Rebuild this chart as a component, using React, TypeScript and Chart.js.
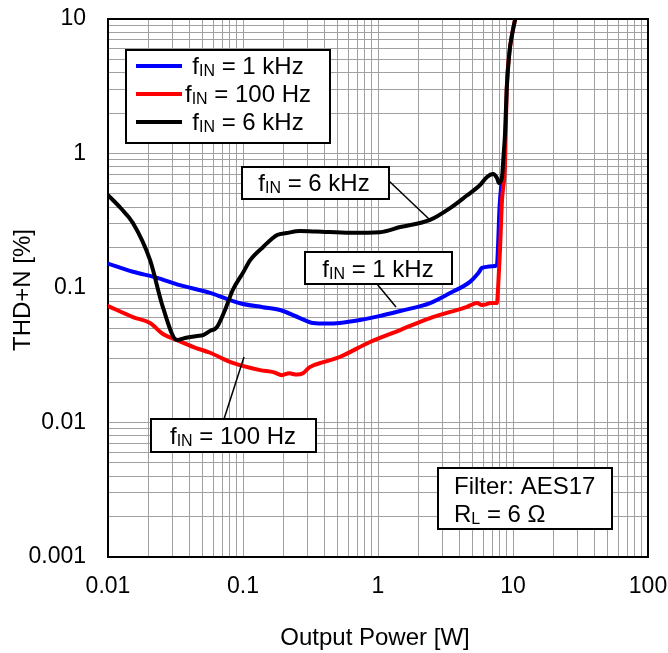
import React, { useEffect, useRef } from 'react';
import { Chart, registerables } from 'chart.js';

Chart.register(...registerables);

// ---------- data ----------
const xTickLabels = ['0.01', '0.1', '1', '10', '100'];
const yTickLabels = ['0.001', '0.01', '0.1', '1', '10'];

const xMin = 0.01;
const xMax = 100;
const yMin = 0.001;
const yMax = 10;

// f_IN = 1 kHz
const power1k = [0.01, 0.0153, 0.0225, 0.0341, 0.057, 0.095, 0.14, 0.188, 0.264, 0.33, 0.42, 0.52, 0.736, 1.0, 1.46, 2.43, 3.42, 4.8, 5.5, 5.89, 6.21, 7.0, 7.61, 7.74, 7.95, 8.29];
const thd1k = [0.152, 0.132, 0.12, 0.105, 0.092, 0.077, 0.072, 0.0686, 0.0598, 0.055, 0.0545, 0.055, 0.0578, 0.0615, 0.0675, 0.0773, 0.0918, 0.111, 0.128, 0.141, 0.143, 0.145, 0.148, 0.2, 0.4, 0.66];

// f_IN = 100 Hz
const power100 = [0.01, 0.0153, 0.0205, 0.0255, 0.0325, 0.043, 0.057, 0.084, 0.134, 0.17, 0.194, 0.22, 0.25, 0.278, 0.31, 0.4, 0.52, 0.873, 1.46, 2.43, 3.42, 4.5, 5.06, 5.41, 5.89, 6.3, 6.76, 7.61, 7.74, 8.01, 8.29, 8.73, 8.98, 9.4, 9.9, 10.6];
const thd100 = [0.0735, 0.0608, 0.0549, 0.0455, 0.041, 0.0364, 0.033, 0.0277, 0.0245, 0.0236, 0.0225, 0.0232, 0.0227, 0.0232, 0.0257, 0.0282, 0.0307, 0.0397, 0.0487, 0.0598, 0.0664, 0.072, 0.076, 0.0773, 0.0748, 0.0755, 0.0773, 0.0773, 0.0966, 0.192, 0.45, 0.85, 2.97, 5.6, 7.9, 11];

// f_IN = 6 kHz
const power6k = [0.01, 0.0125, 0.0153, 0.0205, 0.0255, 0.0325, 0.0372, 0.0456, 0.0506, 0.057, 0.064, 0.0736, 0.084, 0.1, 0.113, 0.141, 0.179, 0.21, 0.264, 0.35, 0.62, 1.035, 1.46, 2.43, 3.42, 4.5, 5.7, 6.42, 7.11, 7.61, 7.87, 8.29, 8.5, 8.73, 8.98, 9.4, 9.9, 10.6];
const thd6k = [0.49, 0.39, 0.304, 0.161, 0.072, 0.041, 0.0425, 0.044, 0.0447, 0.048, 0.051, 0.0686, 0.0966, 0.13, 0.161, 0.202, 0.248, 0.256, 0.265, 0.263, 0.257, 0.26, 0.284, 0.321, 0.393, 0.483, 0.583, 0.669, 0.704, 0.657, 0.604, 0.669, 0.94, 1.42, 2.97, 5.6, 7.9, 11];

const seriesLabels = ['1 kHz', '100 Hz', '6 kHz'];
const seriesColors = ['#0000ff', '#ff0000', '#000000'];

// ---------- helpers ----------
const FONT = 'Arial, "Liberation Sans", Helvetica, sans-serif';
const TICK_FS = 23;
const FS = 24;
const SUB = 16;

const toPoints = (xs: number[], ys: number[]) => xs.map((x, i) => ({ x, y: ys[i] }));

function decadeTicks(min: number, max: number) {
  const out: { value: number }[] = [];
  const e0 = Math.round(Math.log10(min));
  const e1 = Math.round(Math.log10(max));
  for (let e = e0; e < e1; e++) {
    for (let k = 1; k <= 9; k++) {
      out.push({ value: parseFloat((k * Math.pow(10, e)).toPrecision(8)) });
    }
  }
  out.push({ value: max });
  return out;
}

function majorLabel(value: number, labels: string[], min: number) {
  const lg = Math.log10(value);
  if (Math.abs(lg - Math.round(lg)) > 1e-6) return '';
  const idx = Math.round(lg - Math.log10(min));
  return labels[idx] ?? '';
}

type Part = { t: string; sub?: boolean };
const fIn = (rest: string): Part[] => [{ t: 'f' }, { t: 'IN', sub: true }, { t: rest }];

function drawParts(ctx: CanvasRenderingContext2D, parts: Part[], x: number, baseline: number, align: 'left' | 'center') {
  ctx.textBaseline = 'alphabetic';
  ctx.textAlign = 'left';
  const widths = parts.map((p) => {
    ctx.font = `${p.sub ? SUB : FS}px ${FONT}`;
    return ctx.measureText(p.t).width;
  });
  const total = widths.reduce((a, b) => a + b, 0);
  let cx = align === 'center' ? x - total / 2 : x;
  parts.forEach((p, i) => {
    ctx.font = `${p.sub ? SUB : FS}px ${FONT}`;
    ctx.fillText(p.t, cx, baseline + (p.sub ? 2 : 0));
    cx += widths[i];
  });
}

function box(ctx: CanvasRenderingContext2D, x0: number, y0: number, x1: number, y1: number) {
  ctx.save();
  ctx.fillStyle = '#ffffff';
  ctx.fillRect(x0, y0, x1 - x0, y1 - y0);
  ctx.strokeStyle = '#000000';
  ctx.lineWidth = 2;
  ctx.strokeRect(x0, y0, x1 - x0, y1 - y0);
  ctx.restore();
}

function leader(ctx: CanvasRenderingContext2D, x0: number, y0: number, x1: number, y1: number) {
  ctx.save();
  ctx.strokeStyle = '#000000';
  ctx.lineWidth = 1.5;
  ctx.beginPath();
  ctx.moveTo(x0, y0);
  ctx.lineTo(x1, y1);
  ctx.stroke();
  ctx.restore();
}

const framePlugin = {
  id: 'frame',
  beforeDatasetsDraw(chart: any) {
    const { ctx, chartArea: a } = chart;
    ctx.save();
    ctx.strokeStyle = '#000000';
    ctx.lineWidth = 2;
    ctx.strokeRect(a.left, a.top, a.right - a.left, a.bottom - a.top);
    ctx.restore();
  },
  afterDraw(chart: any) {
    const ctx: CanvasRenderingContext2D = chart.ctx;
    ctx.save();
    ctx.fillStyle = '#000000';

    // axis titles
    ctx.font = `${FS}px ${FONT}`;
    ctx.textAlign = 'center';
    ctx.textBaseline = 'alphabetic';
    ctx.fillText('Output Power [W]', 375, 645);
    ctx.save();
    ctx.translate(30, 290);
    ctx.rotate(-Math.PI / 2);
    ctx.fillText('THD+N [%]', 0, 0);
    ctx.restore();

    // legend
    box(ctx, 126, 50, 330, 143);
    const rows = [66, 94, 122];
    seriesLabels.forEach((lab, i) => {
      ctx.save();
      ctx.strokeStyle = seriesColors[i];
      ctx.lineWidth = 4;
      ctx.beginPath();
      ctx.moveTo(136, rows[i]);
      ctx.lineTo(182, rows[i]);
      ctx.stroke();
      ctx.restore();
      ctx.fillStyle = '#000000';
      drawParts(ctx, fIn(' = ' + lab), 248, rows[i] + 8, 'center');
    });

    // annotation: 6 kHz
    leader(ctx, 389, 181, 429, 219);
    box(ctx, 242, 167, 389, 199);
    ctx.fillStyle = '#000000';
    drawParts(ctx, fIn(' = ' + seriesLabels[2]), 314, 191, 'center');

    // annotation: 1 kHz
    leader(ctx, 377, 284, 396, 307);
    box(ctx, 305, 252, 452, 284);
    ctx.fillStyle = '#000000';
    drawParts(ctx, fIn(' = ' + seriesLabels[0]), 378, 277, 'center');

    // annotation: 100 Hz
    leader(ctx, 244, 357, 224, 419);
    box(ctx, 151, 419, 316, 452);
    ctx.fillStyle = '#000000';
    drawParts(ctx, fIn(' = ' + seriesLabels[1]), 233, 444, 'center');

    // conditions
    box(ctx, 438, 468, 612, 529);
    ctx.fillStyle = '#000000';
    drawParts(ctx, [{ t: 'Filter: AES17' }], 454, 494, 'left');
    drawParts(ctx, [{ t: 'R' }, { t: 'L', sub: true }, { t: ' = 6 Ω' }], 454, 522, 'left');

    ctx.restore();
  },
};

export default function App() {
  const ref = useRef<HTMLCanvasElement>(null);

  useEffect(() => {
    document.body.style.margin = '0';
    const canvas = ref.current!;
    const lineDs = (label: string, pts: { x: number; y: number }[], color: string, order: number) => ({
      label,
      data: pts,
      borderColor: color,
      backgroundColor: color,
      borderWidth: 4,
      pointRadius: 0,
      fill: false,
      cubicInterpolationMode: 'monotone' as const,
      borderJoinStyle: 'round' as const,
      borderCapStyle: 'round' as const,
      order,
    });

    const chart = new Chart(canvas, {
      type: 'line',
      data: {
        datasets: [
          lineDs('fIN = 6 kHz', toPoints(power6k, thd6k), seriesColors[2], 0),
          lineDs('fIN = 100 Hz', toPoints(power100, thd100), seriesColors[1], 1),
          lineDs('fIN = 1 kHz', toPoints(power1k, thd1k), seriesColors[0], 2),
        ],
      },
      options: {
        responsive: false,
        animation: false,
        events: [],
        layout: { padding: { top: 19, right: 20, left: 0, bottom: 0 } },
        plugins: { legend: { display: false }, tooltip: { enabled: false }, title: { display: false } },
        scales: {
          x: {
            type: 'logarithmic',
            min: xMin,
            max: xMax,
            afterBuildTicks: (s: any) => { s.ticks = decadeTicks(xMin, xMax); },
            afterFit: (s: any) => { s.height = 96; s.paddingLeft = 0; s.paddingRight = 0; },
            grid: { color: '#a0a0a0', lineWidth: 1, drawTicks: false },
            border: { display: false },
            ticks: {
              autoSkip: false,
              maxRotation: 0,
              minRotation: 0,
              padding: 16,
              color: '#000000',
              font: { family: FONT, size: TICK_FS },
              callback: (v: any) => majorLabel(Number(v), xTickLabels, xMin),
            },
          },
          y: {
            type: 'logarithmic',
            min: yMin,
            max: yMax,
            afterBuildTicks: (s: any) => { s.ticks = decadeTicks(yMin, yMax); },
            afterFit: (s: any) => { s.width = 108; s.paddingTop = 0; s.paddingBottom = 0; },
            grid: { color: '#a0a0a0', lineWidth: 1, drawTicks: false },
            border: { display: false },
            ticks: {
              autoSkip: false,
              padding: 22,
              color: '#000000',
              font: { family: FONT, size: TICK_FS },
              callback: (v: any) => majorLabel(Number(v), yTickLabels, yMin),
            },
          },
        },
      },
      plugins: [framePlugin],
    });
    return () => chart.destroy();
  }, []);

  return <canvas ref={ref} width={668} height={653} style={{ display: 'block' }} />;
}
